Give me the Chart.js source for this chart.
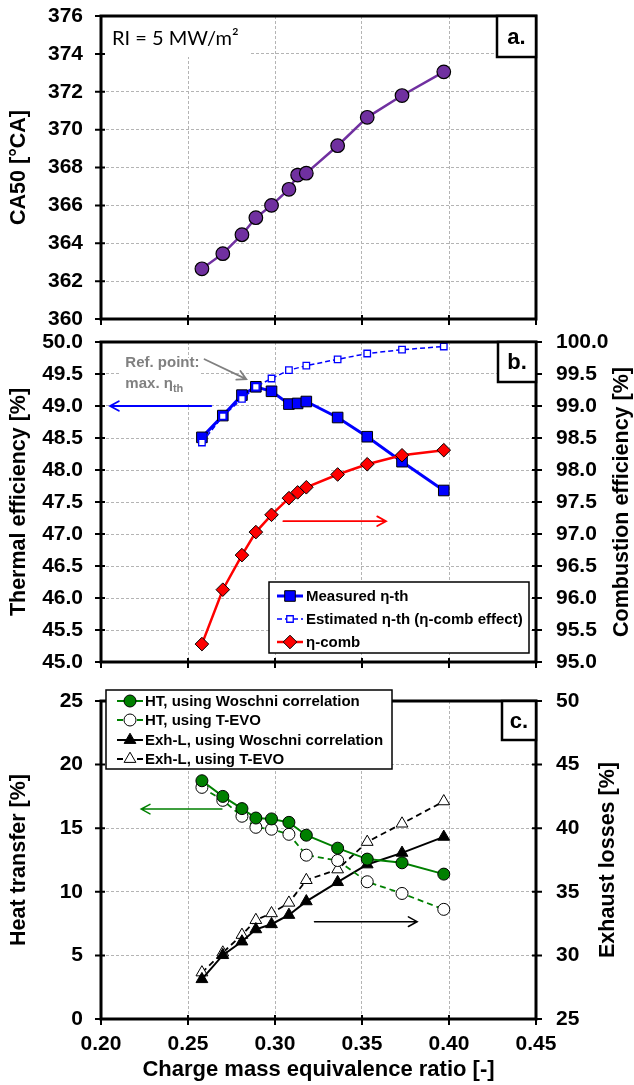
<!DOCTYPE html>
<html>
<head>
<meta charset="utf-8">
<script src="https://cdn.jsdelivr.net/npm/chart.js@4.4.1/dist/chart.umd.min.js"></script>
<style>
  html, body { margin: 0; padding: 0; background: #fff; }
  body { width: 634px; height: 1085px; position: relative; overflow: hidden; }
  canvas { position: absolute; left: 0; }
</style>
</head>
<body>
<canvas id="panelA" width="634" height="330" style="top:0px"></canvas>
<canvas id="panelB" width="634" height="345" style="top:330px"></canvas>
<canvas id="panelC" width="634" height="405" style="top:680px"></canvas>
<script>
// ---- data -------------------------------------------------------------
const phi = [0.258, 0.270, 0.281, 0.289, 0.298, 0.308, 0.313, 0.318, 0.336, 0.353, 0.373, 0.397];
const ca50 = [362.65, 363.45, 364.45, 365.35, 366.0, 366.85, 367.6, 367.7, 369.15, 370.65, 371.8, 373.05];
const etaThMeasured = [48.51, 48.85, 49.17, 49.30, 49.23, 49.03, 49.04, 49.07, 48.82, 48.52, 48.13, 47.68];
const etaThEstimated = [48.43, 48.84, 49.11, 49.30, 49.43, 49.56, null, 49.63, 49.73, 49.82, 49.88, 49.93];
const etaComb = [95.28, 96.13, 96.67, 97.03, 97.30, 97.56, 97.65, 97.73, 97.93, 98.09, 98.23, 98.31];

const phiLoss = [0.258, 0.270, 0.281, 0.289, 0.298, 0.308, 0.318, 0.336, 0.353, 0.373, 0.397];
const htWoschni = [18.73, 17.50, 16.54, 15.80, 15.73, 15.46, 14.45, 13.43, 12.57, 12.28, 11.39];
const htTevo = [18.21, 17.19, 15.94, 15.07, 14.92, 14.52, 12.88, 12.46, 10.79, 9.87, 8.62];
const exhWoschni = [28.13, 30.02, 31.09, 32.05, 32.45, 33.18, 34.25, 35.76, 37.15, 38.06, 39.32];
const exhTevo = [28.66, 30.22, 31.61, 32.78, 33.31, 34.14, 35.92, 36.76, 38.92, 40.36, 42.11];

// ---- tick labels ------------------------------------------------------
const xTicks = [0.20, 0.25, 0.30, 0.35, 0.40, 0.45];
const ca50Ticks = [360, 362, 364, 366, 368, 370, 372, 374, 376];
const thermalTicks = [45.0, 45.5, 46.0, 46.5, 47.0, 47.5, 48.0, 48.5, 49.0, 49.5, 50.0];
const combTicks = [95.0, 95.5, 96.0, 96.5, 97.0, 97.5, 98.0, 98.5, 99.0, 99.5, 100.0];
const htTicks = [0, 5, 10, 15, 20, 25];
const exhTicks = [25, 30, 35, 40, 45, 50];

// ---- shared styling ---------------------------------------------------
const FONT = "'Liberation Sans', Arial, sans-serif";
const LEFT_W = 101;
const RIGHT_W = 98;
const GRID = '#b4b4b4';
const tickFont = { family: FONT, size: 21, weight: 'bold' };

const pts = (xs, ys) => xs.map((x, i) => ({ x: x, y: ys[i] }));

function zeroPad(s) { s.paddingTop = 0; s.paddingBottom = 0; s.paddingLeft = 0; s.paddingRight = 0; }

function xAxis(height, showLabels) {
  return {
    type: 'linear', position: 'bottom', min: 0.2, max: 0.45,
    afterBuildTicks: s => { s.ticks = xTicks.map(v => ({ value: v })); },
    afterFit: s => { s.height = height; zeroPad(s); },
    grid: { color: GRID, lineWidth: 1, drawTicks: false },
    border: { display: false, dash: [3, 2] },
    ticks: { display: showLabels, padding: 13, font: tickFont, color: '#000',
             maxRotation: 0, autoSkip: false, callback: v => Number(v).toFixed(2) },
    title: showLabels ? { display: true, text: 'Charge mass equivalence ratio [-]',
             font: { family: FONT, size: 22, weight: 'bold' }, color: '#000',
             padding: { top: 0, bottom: 2 } } : { display: false }
  };
}

function yAxis(pos, min, max, ticksArr, decimals, grid) {
  return {
    type: 'linear', position: pos, min: min, max: max,
    afterBuildTicks: s => { s.ticks = ticksArr.map(v => ({ value: v })); },
    afterFit: s => { s.width = pos === 'left' ? LEFT_W : RIGHT_W; zeroPad(s); },
    grid: { display: grid, drawOnChartArea: grid, color: GRID, lineWidth: 1, drawTicks: false },
    border: { display: false, dash: [3, 2] },
    ticks: { padding: pos === 'left' ? 18 : 20, font: tickFont, color: '#000', autoSkip: false,
             callback: v => Number(v).toFixed(decimals) },
    title: { display: false }
  };
}

// ---- drawing helpers --------------------------------------------------
function axisTitle(ctx, text, x, y) {
  ctx.save();
  ctx.translate(x, y);
  ctx.rotate(-Math.PI / 2);
  ctx.fillStyle = '#000';
  ctx.font = 'bold 21.5px ' + FONT;
  ctx.textAlign = 'center';
  ctx.textBaseline = 'middle';
  ctx.fillText(text, 0, 0);
  ctx.restore();
}

function marker(ctx, style, x, y, r, fill, stroke, lw) {
  ctx.save();
  ctx.beginPath();
  if (style === 'circle') {
    ctx.arc(x, y, r, 0, Math.PI * 2);
  } else if (style === 'rect') {
    const s = r * Math.SQRT1_2;
    ctx.rect(x - s, y - s, 2 * s, 2 * s);
  } else if (style === 'rectRot') {
    ctx.moveTo(x, y - r); ctx.lineTo(x + r, y); ctx.lineTo(x, y + r); ctx.lineTo(x - r, y); ctx.closePath();
  } else if (style === 'triangle') {
    for (let k = 0; k < 3; k++) {
      const a = -Math.PI / 2 + k * 2 * Math.PI / 3;
      const px = x + r * Math.cos(a), py = y + r * Math.sin(a);
      if (k === 0) ctx.moveTo(px, py); else ctx.lineTo(px, py);
    }
    ctx.closePath();
  }
  ctx.fillStyle = fill;
  ctx.fill();
  if (lw) { ctx.lineWidth = lw; ctx.strokeStyle = stroke; ctx.stroke(); }
  ctx.restore();
}

function arrow(ctx, x1, y1, x2, y2, color, lw) {
  const ang = Math.atan2(y2 - y1, x2 - x1);
  const head = 10, spread = 0.5;
  ctx.save();
  ctx.strokeStyle = color;
  ctx.lineWidth = lw;
  ctx.lineCap = 'round';
  ctx.beginPath();
  ctx.moveTo(x1, y1); ctx.lineTo(x2, y2);
  ctx.moveTo(x2 - head * Math.cos(ang - spread), y2 - head * Math.sin(ang - spread));
  ctx.lineTo(x2, y2);
  ctx.lineTo(x2 - head * Math.cos(ang + spread), y2 - head * Math.sin(ang + spread));
  ctx.stroke();
  ctx.restore();
}

function frame(ctx, area) {
  ctx.save();
  ctx.strokeStyle = '#000';
  ctx.lineWidth = 3;
  ctx.strokeRect(area.left, area.top, area.right - area.left, area.bottom - area.top);
  ctx.restore();
}

function crossTicks(ctx, scale, values, side) {
  ctx.save();
  ctx.strokeStyle = '#000';
  ctx.lineWidth = 2;
  ctx.beginPath();
  values.forEach(v => {
    const p = scale.getPixelForValue(v);
    if (side === 'bottom') { ctx.moveTo(p, scale.top - 4); ctx.lineTo(p, scale.top + 6); }
    if (side === 'left') { ctx.moveTo(scale.right - 6, p); ctx.lineTo(scale.right + 4, p); }
    if (side === 'right') { ctx.moveTo(scale.left - 4, p); ctx.lineTo(scale.left + 6, p); }
  });
  ctx.stroke();
  ctx.restore();
}

function panelTag(ctx, area, text, w, h) {
  const x = area.right - w, y = area.top;
  ctx.save();
  ctx.fillStyle = '#fff';
  ctx.fillRect(x, y, w, h);
  ctx.strokeStyle = '#000';
  ctx.lineWidth = 2.5;
  ctx.strokeRect(x, y, w, h);
  ctx.fillStyle = '#000';
  ctx.font = 'bold 22px ' + FONT;
  ctx.textAlign = 'center';
  ctx.textBaseline = 'middle';
  ctx.fillText(text, x + w / 2, y + h / 2 + 1);
  ctx.restore();
}

function legendBox(ctx, box, rowY, items) {
  ctx.save();
  ctx.fillStyle = '#fff';
  ctx.fillRect(box.x, box.y, box.w, box.h);
  ctx.strokeStyle = '#000';
  ctx.lineWidth = 1.5;
  ctx.strokeRect(box.x, box.y, box.w, box.h);
  items.forEach((it, i) => {
    const y = rowY[i];
    ctx.save();
    ctx.strokeStyle = it.line;
    ctx.lineWidth = it.lw;
    ctx.setLineDash(it.dash || []);
    ctx.beginPath();
    ctx.moveTo(box.lineX0, y); ctx.lineTo(box.lineX1, y);
    ctx.stroke();
    ctx.restore();
    marker(ctx, it.style, (box.lineX0 + box.lineX1) / 2, y, it.r, it.fill, it.stroke, it.mlw);
    ctx.fillStyle = '#000';
    ctx.font = 'bold 15px ' + FONT;
    ctx.textAlign = 'left';
    ctx.textBaseline = 'middle';
    ctx.fillText(it.text, box.textX, y + 1);
  });
  ctx.restore();
}

const baseOpts = {
  responsive: false,
  animation: false,
  devicePixelRatio: 1,
  events: [],
  plugins: { legend: { display: false }, tooltip: { enabled: false } },
  elements: { line: { tension: 0 } }
};

// ---- panel a: CA50 ----------------------------------------------------
new Chart(document.getElementById('panelA'), {
  type: 'line',
  data: {
    datasets: [{
      label: 'CA50',
      data: pts(phi, ca50),
      borderColor: '#7030A0', borderWidth: 2.5,
      pointStyle: 'circle', pointRadius: 6.8,
      pointBackgroundColor: '#7030A0', pointBorderColor: '#000', pointBorderWidth: 1.2
    }]
  },
  options: Object.assign({}, baseOpts, {
    layout: { padding: { top: 16, right: RIGHT_W, left: 0, bottom: 0 } },
    scales: {
      x: xAxis(11, false),
      y: yAxis('left', 360, 376, ca50Ticks, 0, true)
    }
  }),
  plugins: [{
    id: 'decorA',
    afterDraw(chart) {
      const ctx = chart.ctx, a = chart.chartArea;
      const xs = chart.scales.x, ys = chart.scales.y;
      // label box for the operating condition
      ctx.save();
      ctx.fillStyle = '#fff';
      ctx.fillRect(a.left + 1, a.top + 1, 147, 40);
      ctx.fillStyle = '#000';
      ctx.font = "20px Lato, 'Open Sans', sans-serif";
      ctx.textBaseline = 'middle';
      ctx.textAlign = 'left';
      ctx.fillText('RI = 5 MW/m²', xs.getPixelForValue(0.2063), ys.getPixelForValue(374.8));
      ctx.restore();
      frame(ctx, a);
      crossTicks(ctx, xs, xTicks, 'bottom');
      crossTicks(ctx, ys, ca50Ticks, 'left');
      panelTag(ctx, a, 'a.', 39, 41);
      axisTitle(ctx, 'CA50 [°CA]', 19, (a.top + a.bottom) / 2);
    }
  }]
});

// ---- panel b: efficiencies -------------------------------------------
new Chart(document.getElementById('panelB'), {
  type: 'line',
  data: {
    datasets: [{
      label: 'Measured η-th',
      data: pts(phi, etaThMeasured), yAxisID: 'yL', order: 2,
      borderColor: '#0000FF', borderWidth: 3,
      pointStyle: 'rect', pointRadius: 7.5,
      pointBackgroundColor: '#0000FF', pointBorderColor: '#000', pointBorderWidth: 1
    }, {
      label: 'Estimated η-th (η-comb effect)',
      data: pts(phi, etaThEstimated), yAxisID: 'yL', order: 0, spanGaps: true,
      borderColor: '#0000FF', borderWidth: 1.5, borderDash: [5, 3],
      pointStyle: 'rect', pointRadius: 4.6,
      pointBackgroundColor: '#fff', pointBorderColor: '#0000FF', pointBorderWidth: 1.3
    }, {
      label: 'η-comb',
      data: pts(phi, etaComb), yAxisID: 'yR', order: 1,
      borderColor: '#FF0000', borderWidth: 2.5,
      pointStyle: 'rectRot', pointRadius: 6.8,
      pointBackgroundColor: '#FF0000', pointBorderColor: '#000', pointBorderWidth: 1
    }]
  },
  options: Object.assign({}, baseOpts, {
    layout: { padding: { top: 12, right: 0, left: 0, bottom: 0 } },
    scales: {
      x: xAxis(13, false),
      yL: yAxis('left', 45, 50, thermalTicks, 1, true),
      yR: yAxis('right', 95, 100, combTicks, 1, false)
    }
  }),
  plugins: [{
    id: 'decorB',
    afterDraw(chart) {
      const ctx = chart.ctx, a = chart.chartArea;
      const xs = chart.scales.x, yl = chart.scales.yL, yr = chart.scales.yR;
      const X = v => xs.getPixelForValue(v);
      // reference-point note
      ctx.save();
      ctx.fillStyle = '#fff';
      ctx.fillRect(X(0.2115), yl.getPixelForValue(49.75), 78, 46);
      ctx.fillStyle = '#808080';
      ctx.textAlign = 'left';
      ctx.textBaseline = 'middle';
      ctx.font = 'bold 15px ' + FONT;
      ctx.fillText('Ref. point:', X(0.2140), yl.getPixelForValue(49.67));
      const mx = X(0.2140), my = yl.getPixelForValue(49.35);
      ctx.fillText('max. η', mx, my);
      const w = ctx.measureText('max. η').width;
      ctx.font = 'bold 11px ' + FONT;
      ctx.fillText('th', mx + w, my + 5);
      ctx.restore();
      arrow(ctx, X(0.2595), yl.getPixelForValue(49.73), X(0.2835), yl.getPixelForValue(49.42), '#808080', 1.8);
      arrow(ctx, X(0.2634), yl.getPixelForValue(49.0), X(0.2052), yl.getPixelForValue(49.0), '#0000FF', 1.8);
      arrow(ctx, X(0.3048), yr.getPixelForValue(97.2), X(0.3638), yr.getPixelForValue(97.2), '#FF0000', 1.8);
      frame(ctx, a);
      crossTicks(ctx, xs, xTicks, 'bottom');
      crossTicks(ctx, yl, thermalTicks, 'left');
      crossTicks(ctx, yr, combTicks, 'right');
      panelTag(ctx, a, 'b.', 38, 40);
      const mid = (a.top + a.bottom) / 2;
      axisTitle(ctx, 'Thermal efficiency [%]', 19, mid);
      axisTitle(ctx, 'Combustion efficiency [%]', 622, mid);
      const ds = chart.data.datasets;
      legendBox(ctx, { x: 269, y: 252, w: 260, h: 71, lineX0: 277, lineX1: 303, textX: 306 },
        [266, 289, 312], [
          { text: ds[0].label, line: '#0000FF', lw: 3, style: 'rect', r: 7.5, fill: '#0000FF', stroke: '#000', mlw: 1 },
          { text: ds[1].label, line: '#0000FF', lw: 1.5, dash: [5, 3], style: 'rect', r: 4.6, fill: '#fff', stroke: '#0000FF', mlw: 1.3 },
          { text: ds[2].label, line: '#FF0000', lw: 2.5, style: 'rectRot', r: 6.8, fill: '#FF0000', stroke: '#000', mlw: 1 }
        ]);
    }
  }]
});

// ---- panel c: heat transfer and exhaust losses -----------------------
new Chart(document.getElementById('panelC'), {
  type: 'line',
  data: {
    datasets: [{
      label: 'HT, using Woschni correlation',
      data: pts(phiLoss, htWoschni), yAxisID: 'yL',
      borderColor: '#008000', borderWidth: 2,
      pointStyle: 'circle', pointRadius: 6,
      pointBackgroundColor: '#008000', pointBorderColor: '#000', pointBorderWidth: 1
    }, {
      label: 'HT, using T-EVO',
      data: pts(phiLoss, htTevo), yAxisID: 'yL',
      borderColor: '#008000', borderWidth: 1.8, borderDash: [6, 4],
      pointStyle: 'circle', pointRadius: 6,
      pointBackgroundColor: '#fff', pointBorderColor: '#000', pointBorderWidth: 1
    }, {
      label: 'Exh-L, using Woschni correlation',
      data: pts(phiLoss, exhWoschni), yAxisID: 'yR',
      borderColor: '#000', borderWidth: 2,
      pointStyle: 'triangle', pointRadius: 6.8,
      pointBackgroundColor: '#000', pointBorderColor: '#000', pointBorderWidth: 1
    }, {
      label: 'Exh-L, using T-EVO',
      data: pts(phiLoss, exhTevo), yAxisID: 'yR',
      borderColor: '#000', borderWidth: 1.8, borderDash: [6, 4],
      pointStyle: 'triangle', pointRadius: 6.8,
      pointBackgroundColor: '#fff', pointBorderColor: '#000', pointBorderWidth: 1
    }]
  },
  options: Object.assign({}, baseOpts, {
    layout: { padding: { top: 21, right: 0, left: 0, bottom: 0 } },
    scales: {
      x: xAxis(66, true),
      yL: yAxis('left', 0, 25, htTicks, 0, true),
      yR: yAxis('right', 25, 50, exhTicks, 0, false)
    }
  }),
  plugins: [{
    id: 'decorC',
    afterDraw(chart) {
      const ctx = chart.ctx, a = chart.chartArea;
      const xs = chart.scales.x, yl = chart.scales.yL, yr = chart.scales.yR;
      const X = v => xs.getPixelForValue(v);
      arrow(ctx, X(0.2695), yl.getPixelForValue(16.5), X(0.2231), yl.getPixelForValue(16.5), '#008000', 1.5);
      arrow(ctx, X(0.3227), yr.getPixelForValue(32.65), X(0.3817), yr.getPixelForValue(32.65), '#000', 1.5);
      frame(ctx, a);
      crossTicks(ctx, xs, xTicks, 'bottom');
      crossTicks(ctx, yl, htTicks, 'left');
      crossTicks(ctx, yr, exhTicks, 'right');
      panelTag(ctx, a, 'c.', 34, 39);
      const mid = (a.top + a.bottom) / 2;
      axisTitle(ctx, 'Heat transfer [%]', 19, mid);
      axisTitle(ctx, 'Exhaust losses [%]', 608, mid);
      const ds = chart.data.datasets;
      legendBox(ctx, { x: 106, y: 10, w: 286, h: 79, lineX0: 117, lineX1: 143, textX: 145 },
        [21, 40, 60, 79], [
          { text: ds[0].label, line: '#008000', lw: 2, style: 'circle', r: 6, fill: '#008000', stroke: '#000', mlw: 1 },
          { text: ds[1].label, line: '#008000', lw: 1.8, dash: [6, 4], style: 'circle', r: 6, fill: '#fff', stroke: '#000', mlw: 1 },
          { text: ds[2].label, line: '#000', lw: 2, style: 'triangle', r: 6.8, fill: '#000', stroke: '#000', mlw: 1 },
          { text: ds[3].label, line: '#000', lw: 1.8, dash: [6, 4], style: 'triangle', r: 6.8, fill: '#fff', stroke: '#000', mlw: 1 }
        ]);
    }
  }]
});
</script>
</body>
</html>
